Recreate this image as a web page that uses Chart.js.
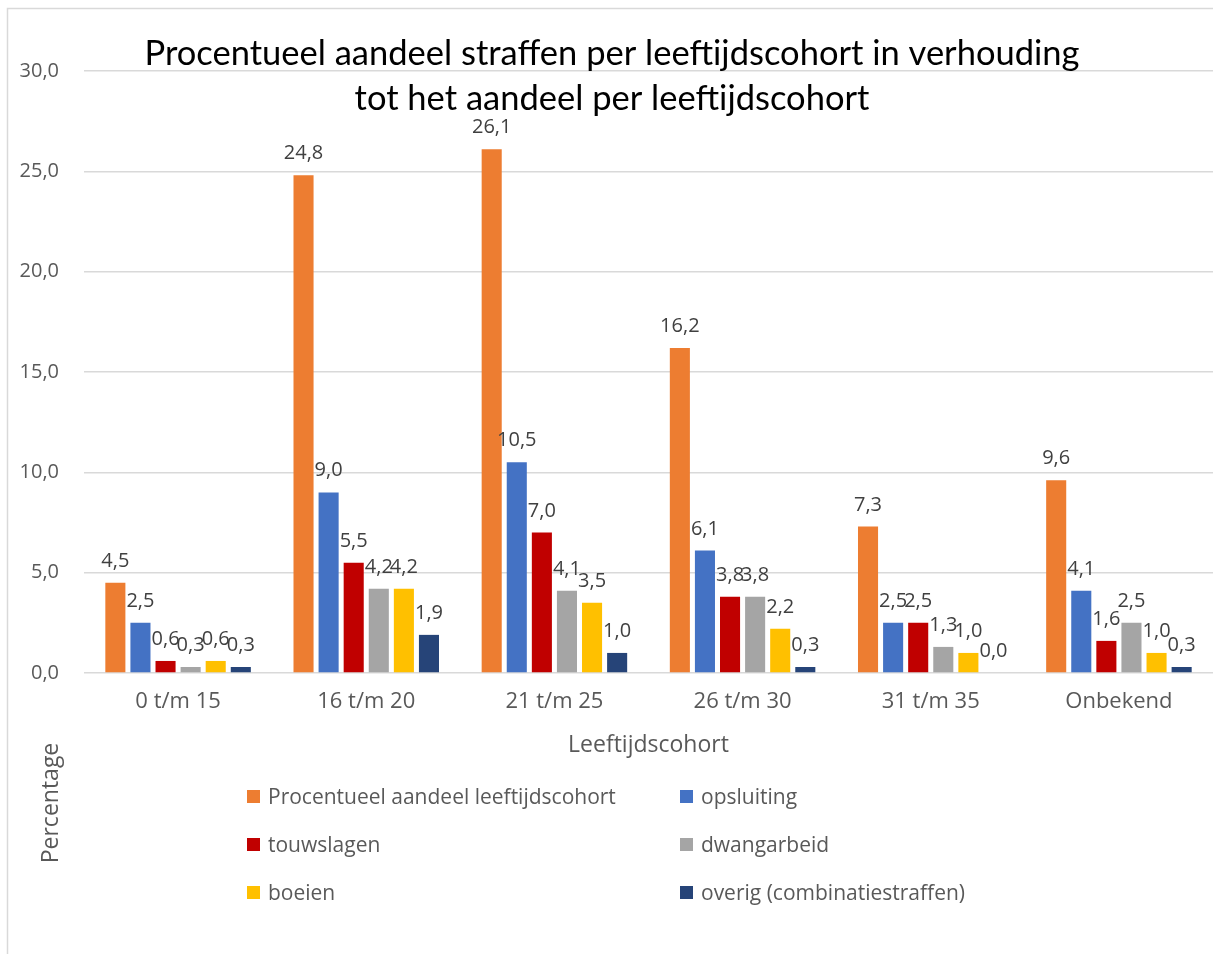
<!DOCTYPE html>
<html><head><meta charset="utf-8">
<script src="https://cdn.jsdelivr.net/npm/chart.js@4.4.0/dist/chart.umd.min.js"></script>
<style>html,body{margin:0;padding:0;background:#fff;}#wrap{position:relative;width:1213px;height:954px;}</style>
</head><body><div id="wrap"><canvas id="c" width="1213" height="954"></canvas></div>
<script>
const categories = ['0 t/m 15', '16 t/m 20', '21 t/m 25', '26 t/m 30', '31 t/m 35', 'Onbekend'];
const seriesNames = ['Procentueel aandeel leeftijdscohort', 'opsluiting', 'touwslagen', 'dwangarbeid', 'boeien', 'overig (combinatiestraffen)'];
const aandeel = [4.5, 24.8, 26.1, 16.2, 7.3, 9.6];
const opsluiting = [2.5, 9.0, 10.5, 6.1, 2.5, 4.1];
const touwslagen = [0.6, 5.5, 7.0, 3.8, 2.5, 1.6];
const dwangarbeid = [0.3, 4.2, 4.1, 3.8, 1.3, 2.5];
const boeien = [0.6, 4.2, 3.5, 2.2, 1.0, 1.0];
const overig = [0.3, 1.9, 1.0, 0.3, 0.0, 0.3];
const yTickValues = [0, 5, 10, 15, 20, 25, 30];
const titleLines = ['Procentueel aandeel straffen per leeftijdscohort in verhouding', 'tot het aandeel per leeftijdscohort'];
const xTitle = 'Leeftijdscohort';
const yTitle = 'Percentage';

const colors = ['#ED7D31', '#4472C4', '#C00000', '#A5A5A5', '#FFC000', '#264478'];
const seriesValues = [aandeel, opsluiting, touwslagen, dwangarbeid, boeien, overig];
const TFONT = 'Lato, "Open Sans", sans-serif';
const FONT = '"Open Sans", Lato, sans-serif';
const fmt = v => v.toFixed(1).replace('.', ',');

const datasets = seriesValues.map((vals, i) => ({
  label: seriesNames[i],
  data: vals,
  backgroundColor: colors[i],
  borderWidth: 0,
  categoryPercentage: 0.8,
  barPercentage: 0.8
}));

const overlay = {
  id: 'overlay',
  beforeDraw(chart) {
    const ctx = chart.ctx;
    ctx.save();
    ctx.fillStyle = '#fff';
    ctx.fillRect(0, 0, chart.width, chart.height);
    ctx.strokeStyle = '#d9d9d9';
    ctx.lineWidth = 1.5;
    ctx.beginPath();
    ctx.moveTo(7.5, chart.height + 5);
    ctx.lineTo(7.5, 8.5);
    ctx.lineTo(chart.width + 5, 8.5);
    ctx.stroke();
    ctx.restore();
  },
  afterDatasetsDraw(chart) {
    const ctx = chart.ctx;
    ctx.save();
    ctx.font = '20px ' + FONT;
    ctx.fillStyle = '#404040';
    ctx.textAlign = 'center';
    ctx.textBaseline = 'alphabetic';
    chart.data.datasets.forEach((ds, di) => {
      const meta = chart.getDatasetMeta(di);
      meta.data.forEach((el, i) => {
        ctx.fillText(fmt(ds.data[i]), el.x, el.y - 16);
      });
    });
    ctx.restore();
  },
  afterDraw(chart) {
    const ctx = chart.ctx;
    ctx.save();
    // title
    ctx.fillStyle = '#000';
    ctx.font = '34.5px ' + TFONT;
    ctx.textAlign = 'center';
    ctx.textBaseline = 'alphabetic';
    ctx.fillText(titleLines[0], 612, 65);
    ctx.fillText(titleLines[1], 612, 110);
    // y title
    ctx.save();
    ctx.translate(58, 803);
    ctx.rotate(-Math.PI / 2);
    ctx.fillStyle = '#595959';
    ctx.font = '23px ' + FONT;
    ctx.textAlign = 'center';
    ctx.textBaseline = 'alphabetic';
    ctx.fillText(yTitle, 0, 0);
    ctx.restore();
    // legend
    const colX = [247, 680];
    const rowY = [797, 845, 893];
    ctx.font = '21px ' + FONT;
    ctx.textBaseline = 'middle';
    ctx.textAlign = 'left';
    chart.data.datasets.forEach((ds, i) => {
      const x = colX[i % 2], y = rowY[Math.floor(i / 2)];
      ctx.fillStyle = ds.backgroundColor;
      ctx.fillRect(x, y - 7, 13, 13);
      ctx.fillStyle = '#595959';
      ctx.fillText(ds.label, x + 21, y + 1);
    });
    ctx.restore();
  }
};

new Chart(document.getElementById('c'), {
  type: 'bar',
  data: { labels: categories, datasets },
  options: {
    responsive: false,
    animation: false,
    devicePixelRatio: 1,
    layout: { padding: { top: 71, left: 0, right: 0, bottom: 0 } },
    plugins: { legend: { display: false }, title: { display: false }, tooltip: { enabled: false } },
    scales: {
      x: {
        grid: { display: false, drawTicks: false },
        border: { display: false },
        ticks: { color: '#595959', font: { family: FONT, size: 22 }, padding: 16 },
        title: { display: true, text: xTitle, color: '#595959', font: { family: FONT, size: 23 }, padding: { top: 0, bottom: 195 } },
        afterFit(s) { s.height = 281; }
      },
      y: {
        min: 0, max: 30,
        afterBuildTicks(s) { s.ticks = yTickValues.map(v => ({ value: v })); },
        grid: { color: '#d9d9d9', lineWidth: 1.5, drawTicks: false },
        border: { display: false },
        ticks: { color: '#595959', font: { family: FONT, size: 20 }, padding: 25, callback: v => fmt(v) },
        afterFit(s) { s.width = 84; }
      }
    }
  },
  plugins: [overlay]
});
</script></body></html>
